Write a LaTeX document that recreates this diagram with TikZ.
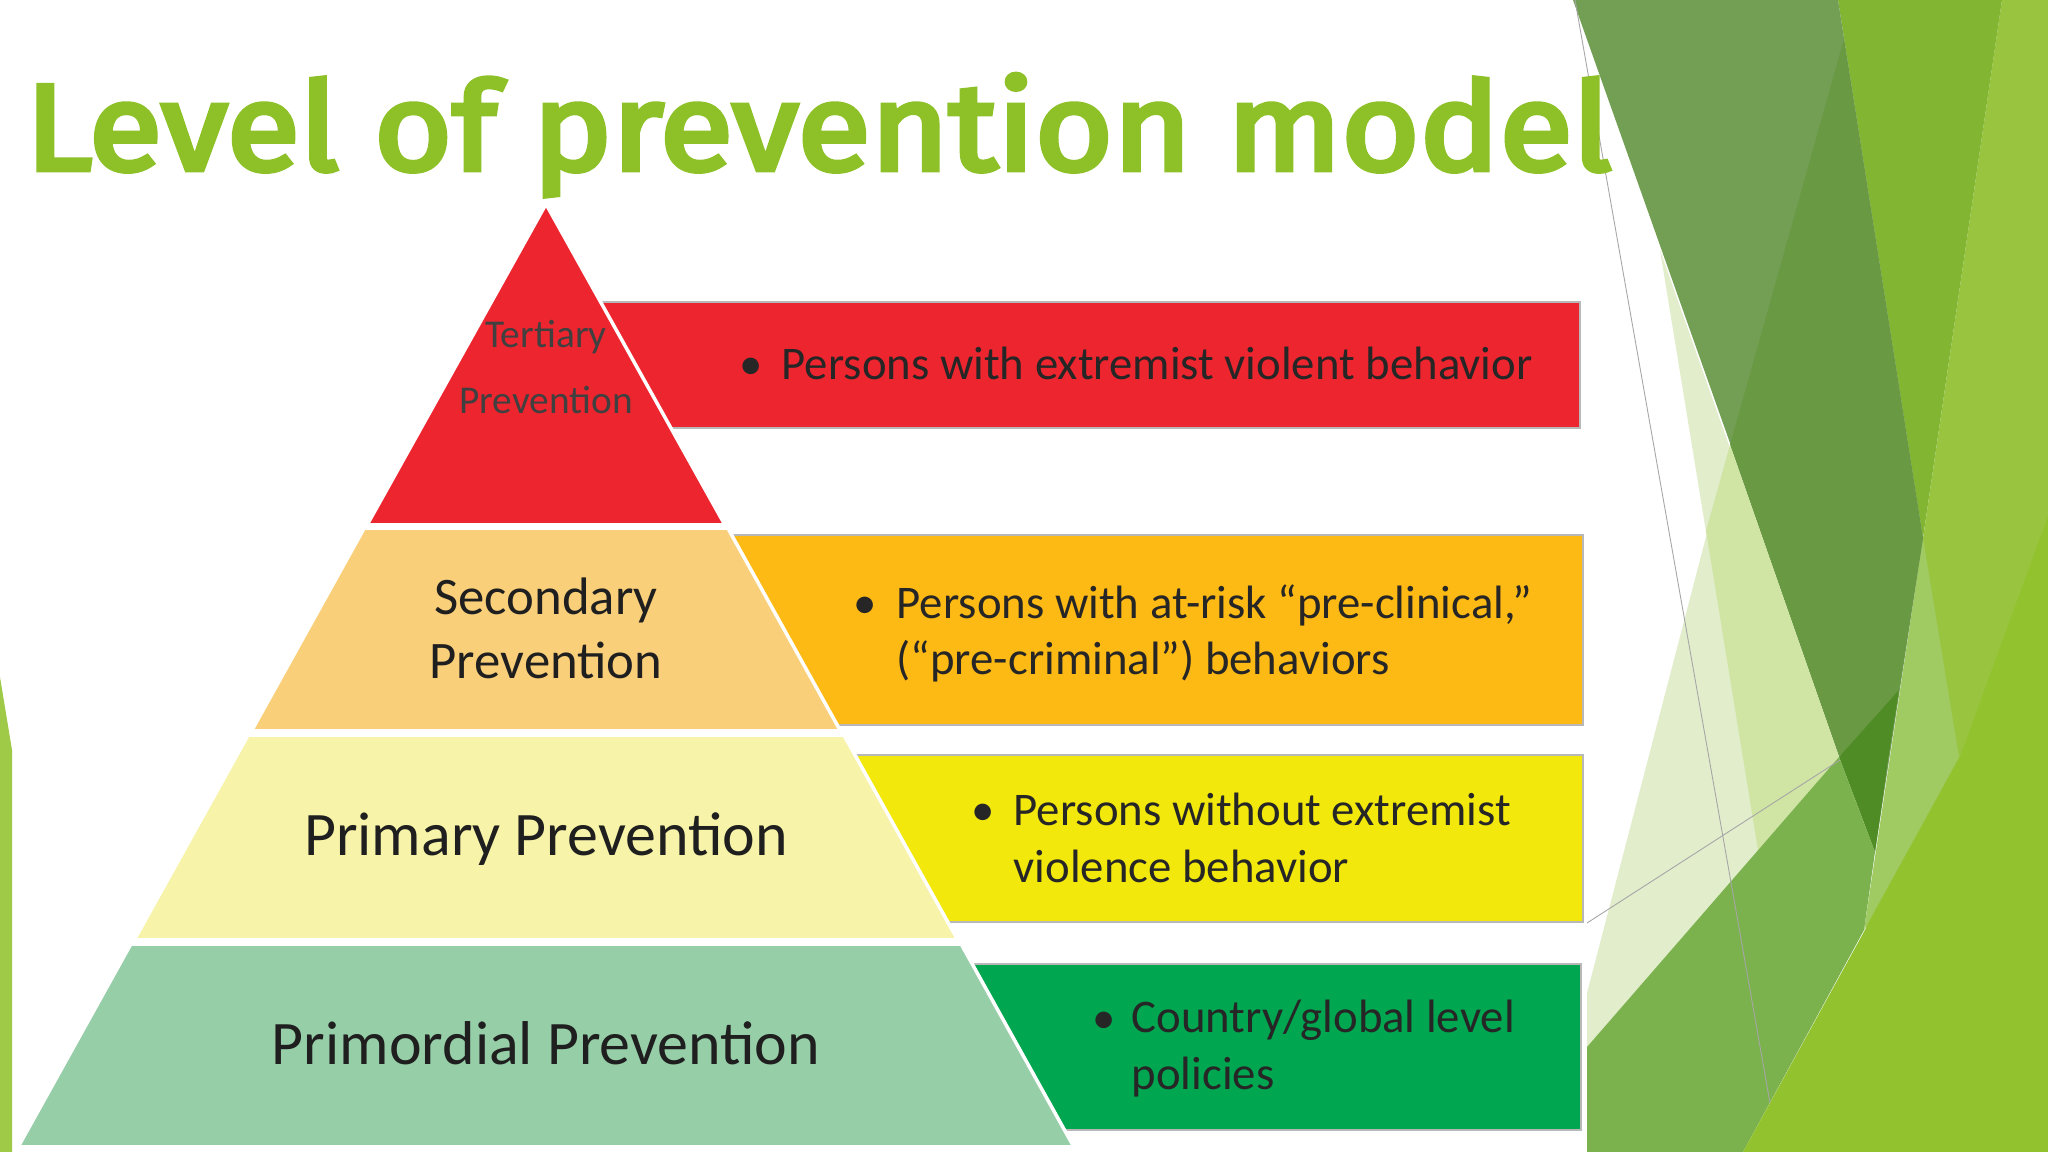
\documentclass[tikz,border=0pt]{standalone}
\usepackage{fontspec}
\usepackage{graphicx}
\setmainfont{Carlito}
\newfontfamily\headfont{Fira Sans}[FakeBold=4]

\definecolor{titlegreen}{RGB}{141,193,39}
\definecolor{redlvl}{RGB}{237,37,47}
\definecolor{seclvl}{RGB}{250,207,122}
\definecolor{primlvl}{RGB}{247,243,168}
\definecolor{primordlvl}{RGB}{150,206,168}
\definecolor{orangebox}{RGB}{253,185,20}
\definecolor{yellowbox}{RGB}{242,232,12}
\definecolor{greenbox}{RGB}{0,166,80}
\definecolor{olive}{HTML}{729F54}
\definecolor{olivedk}{HTML}{6A9944}
\definecolor{darkest}{HTML}{508C26}
\definecolor{bright}{HTML}{82B632}
\definecolor{lightright}{HTML}{98C440}
\definecolor{patch}{HTML}{A0CB62}
\definecolor{palest}{HTML}{E2EDCC}
\definecolor{pale}{HTML}{D0E4A4}
\definecolor{midgreen}{HTML}{7CB24E}
\definecolor{yelgreen}{HTML}{93C22F}

\tikzset{
  lvl/.style={draw=white, line width=1pt, line join=round},
  infobox/.style={draw=black!28, line width=0.6pt},
  lvltext/.style={inner sep=0pt, align=center, text=black!88},
  boxtext/.style={inner sep=0pt, anchor=base west, align=left, text=black!85,
    font=\fontsize{13.3}{16}\selectfont},
  bullet/.style={inner sep=0pt, anchor=base, text=black!85,
    font=\fontsize{13.3}{16}\selectfont},
  facetline/.style={draw=black!35, line width=0.25pt}
}

\begin{document}
\begin{tikzpicture}[x=0.01cm, y=-0.01cm]
  \useasboundingbox (0,0) rectangle (2048,1152);
  \fill[white] (0,0) rectangle (2048,1152);

  % facet shapes on the right
  \fill[lightright] (2002,0) -- (2048,0) -- (2048,1152) -- (1833,1152) -- cycle;
  \fill[patch] (1923,538) -- (1959,757) -- (1864,930) -- cycle;
  \fill[bright] (1838,0) -- (2002,0) -- (1923,538) -- cycle;
  \fill[olive] (1573,0) -- (1838,0) -- (1923,538) -- (1875,852) -- cycle;
  \fill[olivedk] (1844,39) -- (1923,538) -- (1899,690) -- (1839,757) -- (1730,445) -- cycle;
  \fill[darkest] (1839,757) -- (1899,690) -- (1888,760) -- (1875,852) -- cycle;
  \fill[palest] (1730,445) -- (1839,757) -- (1587,1047) -- (1587,993) -- cycle;
  \fill[palest] (1660,250) -- (1839,757) -- (1758,850) -- cycle;
  \fill[pale] (1730,445) -- (1839,757) -- (1758,850) -- (1706,531) -- cycle;
  \fill[midgreen] (1587,1047) -- (1839,757) -- (1875,852) -- (1864,930) -- (1743,1152) -- (1587,1152) -- cycle;
  \fill[yelgreen] (1743,1152) -- (1960,757) -- (2048,516) -- (2048,1152) -- cycle;
  \draw[facetline] (1575,0) -- (1770,1103);
  \draw[facetline] (1587,923) -- (1840,760);

  % facet sliver on the left
  \fill[titlegreen!85!white] (0,677) -- (12,750) -- (12,1152) -- (0,1152) -- cycle;

  % title
  \node[anchor=base west, inner sep=0pt, text=titlegreen] (title) at (25,170)
    {\resizebox*{15.85cm}{1.22cm}{\headfont Level of prevention model}};

  % boxes behind the pyramid
  \draw[infobox, fill=redlvl] (560,302) rectangle (1580,428);
  \draw[infobox, fill=orangebox] (700,535) rectangle (1583,725);
  \draw[infobox, fill=yellowbox] (820,755) rectangle (1583,922);
  \draw[infobox, fill=greenbox] (940,964) rectangle (1581,1130);

  % pyramid
  \foreach \ya/\yb/\col in {204/525/redlvl, 528/731/seclvl, 735/940/primlvl, 944/1147/primordlvl}
    \filldraw[lvl, fill=\col] ({546-0.561*(\ya-204)},\ya) -- ({546+0.561*(\ya-204)},\ya)
      -- ({546+0.561*(\yb-206)},\yb) -- ({546-0.561*(\yb-206)},\yb) -- cycle;

  % base anchor of a two-line node sits on its last line
  \node[lvltext, anchor=base, text=black!75, font=\fontsize{11.2}{19}\selectfont] (tertiary) at (546,414) {Tertiary\\Prevention};
  \node[lvltext, anchor=base, font=\fontsize{15}{18.2}\selectfont] (secondary) at (546,679) {Secondary\\Prevention};
  \node[lvltext, anchor=base, font=\fontsize{17.6}{21}\selectfont] (primary) at (546,855) {Primary Prevention};
  \node[lvltext, anchor=base, font=\fontsize{17.6}{21}\selectfont] (primordial) at (546,1064) {Primordial Prevention};

  % box texts
  \node[bullet] (bulred) at (751,380) {•};
  \node[boxtext] (txtred) at (781,380) {Persons with extremist violent behavior};
  \node[bullet] (bulorange) at (865,618) {•};
  \node[boxtext] (txtorange) at (896,675) {Persons with at-risk “pre-clinical,”\\(“pre-criminal”) behaviors};
  \node[bullet] (bulyellow) at (983,825) {•};
  \node[boxtext] (txtyellow) at (1013,882) {Persons without extremist\\violence behavior};
  \node[bullet] (bulgreen) at (1104,1033) {•};
  \node[boxtext] (txtgreen) at (1131,1089) {Country/global level\\policies};
\end{tikzpicture}
\end{document}
